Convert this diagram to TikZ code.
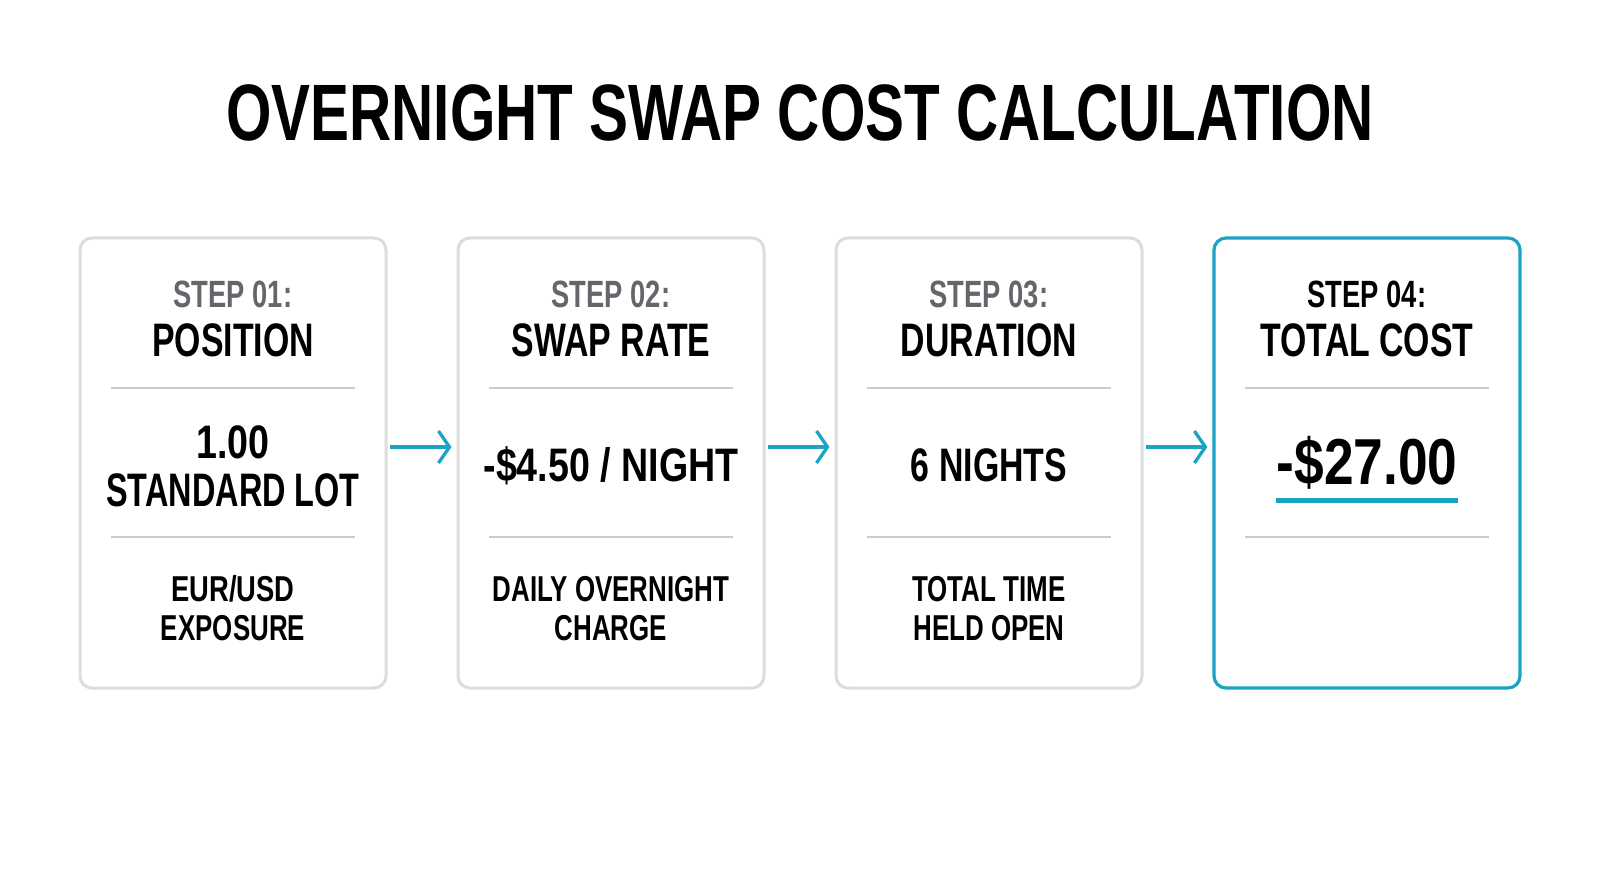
\documentclass[tikz,border=0pt]{standalone}
\usepackage{fontspec}
\usetikzlibrary{arrows.meta,calc}
\newfontfamily\dinfont{Liberation Sans Bold}[FakeStretch=0.72]
\newfontfamily\dintitle{Liberation Sans Bold}[FakeStretch=0.73]
\newfontfamily\dinnum{Liberation Sans Bold}[FakeStretch=0.80]
\newfontfamily\dinnarrow{Liberation Sans Bold}[FakeStretch=0.69]
\newfontfamily\dinwide{Liberation Sans Bold}[FakeStretch=0.76]
\newfontfamily\dinbig{Liberation Sans Bold}[FakeStretch=0.82]
\definecolor{teal1}{HTML}{1BA3C6}
\definecolor{boxgray}{HTML}{DCDCDC}
\definecolor{divgray}{HTML}{CCCCCC}
\definecolor{stepgray}{HTML}{63666A}
\tikzset{
  card/.style={draw=boxgray, line width=3pt, rounded corners=12pt, minimum width=306pt, minimum height=450pt, fill=white},
  cardhi/.style={card, draw=teal1, line width=3.2pt},
  txt/.style={inner sep=0pt, anchor=base, font=\dinfont\fontsize{#1}{#1}\selectfont},
  numtxt/.style={inner sep=0pt, anchor=base, font=\dinnum\fontsize{#1}{#1}\selectfont},
  steplbl/.style={txt=38, text=stepgray},
  headlbl/.style={txt=47},
  vallbl/.style={txt=47},
  botlbl/.style={txt=36},
  divider/.style={draw=divgray, line width=1.4pt},
  flow/.style={draw=teal1, line width=3.3pt, -{Straight Barb[length=11pt,width=32pt]}, shorten <=2pt, shorten >=5pt},
}
\begin{document}
\begin{tikzpicture}[x=1pt,y=-1pt]
\useasboundingbox[fill=white] (0,0) rectangle (1600,893);
\node[inner sep=0pt, anchor=base, font=\dintitle\fontsize{80}{80}\selectfont] (title) at (800,141) {OVERNIGHT SWAP COST CALCULATION};
% cards
\node[card] (b1) at (233,463) {};
\node[card] (b2) at (611,463) {};
\node[card] (b3) at (989,463) {};
\node[cardhi] (b4) at (1367,463) {};
% dividers
\foreach \c in {233,611,989,1367}{
  \draw[divider] (\c-122,388) -- (\c+122,388);
  \draw[divider] (\c-122,537) -- (\c+122,537);
}
% card 1
\node[steplbl] (s1) at (233,307) {STEP 01:};
\node[headlbl] (h1) at (233,356) {POSITION};
\node[numtxt=47] (v1a) at (233,458) {1.00};
\node[inner sep=0pt, anchor=base, font=\dinnarrow\fontsize{47}{47}\selectfont] (v1b) at (233,506) {STANDARD LOT};
\node[inner sep=0pt, anchor=base, font=\dinwide\fontsize{36}{36}\selectfont] (d1a) at (233,601) {EUR/USD};
\node[botlbl] (d1b) at (233,640) {EXPOSURE};
% card 2
\node[steplbl] (s2) at (611,307) {STEP 02:};
\node[headlbl] (h2) at (611,356) {SWAP RATE};
\node[numtxt=47] (v2) at (611,481) {-\$4.50 / NIGHT};
\node[botlbl] (d2a) at (611,601) {DAILY OVERNIGHT};
\node[botlbl] (d2b) at (611,640) {CHARGE};
% card 3
\node[steplbl] (s3) at (989,307) {STEP 03:};
\node[headlbl] (h3) at (989,356) {DURATION};
\node[vallbl] (v3) at (989,481) {6 NIGHTS};
\node[botlbl] (d3a) at (989,601) {TOTAL TIME};
\node[botlbl] (d3b) at (989,640) {HELD OPEN};
% card 4
\node[steplbl, text=black] (s4) at (1367,307) {STEP 04:};
\node[headlbl] (h4) at (1367,356) {TOTAL COST};
\node[inner sep=0pt, anchor=base, font=\dinbig\fontsize{65}{65}\selectfont] (v4) at (1367,484) {-\$27.00};
\draw[draw=teal1, line width=5pt] (v4.west |- 0,500.5) -- (v4.east |- 0,500.5);
% arrows
\draw[flow] ([yshift=16pt]b1.east) -- ([yshift=16pt]b2.west);
\draw[flow] ([yshift=16pt]b2.east) -- ([yshift=16pt]b3.west);
\draw[flow] ([yshift=16pt]b3.east) -- ([yshift=16pt]b4.west);
\end{tikzpicture}
\end{document}
